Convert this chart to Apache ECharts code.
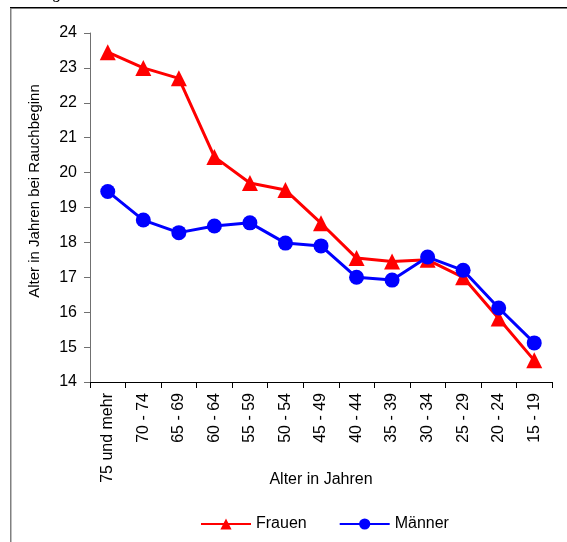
<!DOCTYPE html>
<html>
<head>
<meta charset="utf-8">
<script src="https://cdn.jsdelivr.net/npm/echarts@6/dist/echarts.min.js"></script>
<style>
  html, body { margin: 0; padding: 0; background: #fff; }
  #chart { width: 567px; height: 542px; }
</style>
</head>
<body>
<div id="chart"></div>
<script>
// Age groups (oldest first) and mean age at smoking onset
const ageGroups = ['75 und mehr', '70 - 74', '65 - 69', '60 - 64', '55 - 59', '50 - 54',
  '45 - 49', '40 - 44', '35 - 39', '30 - 34', '25 - 29', '20 - 24', '15 - 19'];
const frauen = [23.45, 23.0, 22.7, 20.45, 19.7, 19.5, 18.55, 17.55, 17.45, 17.5, 17.0, 15.82, 14.62];
const maenner = [19.46, 18.64, 18.28, 18.47, 18.56, 17.98, 17.9, 17.0, 16.92, 17.58, 17.2, 16.12, 15.12];
const yMin = 14, yMax = 24, yStep = 1;

const FONT = '"Liberation Sans", Arial, sans-serif';
const chart = echarts.init(document.getElementById('chart'), null, { renderer: 'canvas' });

chart.setOption({
  backgroundColor: '#fff',
  animation: false,
  textStyle: { fontFamily: FONT },
  graphic: [
    // outer frame (top and left edges)
    { type: 'rect', shape: { x: 10, y: 7, width: 600, height: 1.5 }, style: { fill: '#000' }, z: 0 },
    { type: 'rect', shape: { x: 10, y: 8, width: 1.5, height: 600 }, style: { fill: '#808080' }, z: 0 },
    // heading above the frame (mostly outside the page)
    { type: 'text', left: -4, top: -12,
      style: { text: 'Abbildung', font: 'bold 14px "Liberation Serif", "Times New Roman", serif', fill: '#000' } },
    // value axis title
    { type: 'text', x: 35, y: 191, rotation: Math.PI / 2,
      style: { text: 'Alter in Jahren bei Rauchbeginn', font: '15px ' + FONT, fill: '#000',
               align: 'center', verticalAlign: 'middle' } }
  ],
  grid: { left: 90, right: 15, top: 33, bottom: 160, containLabel: false },
  legend: {
    left: 195,
    top: 511,
    itemWidth: 50,
    itemHeight: 14,
    itemGap: 32,
    textStyle: { fontSize: 16, color: '#000', fontFamily: FONT },
    data: ['Frauen', 'Männer']
  },
  xAxis: {
    type: 'category',
    data: ageGroups,
    boundaryGap: true,
    name: 'Alter in Jahren',
    nameLocation: 'middle',
    nameGap: 90,
    nameMoveOverlap: false,
    nameTextStyle: { fontSize: 16, color: '#000', fontFamily: FONT },
    axisLine: { lineStyle: { color: '#000', width: 1 } },
    axisTick: { show: true, length: 6, lineStyle: { color: '#000' } },
    axisLabel: { interval: 0, rotate: 90, margin: 11, fontSize: 16, color: '#000', fontFamily: FONT },
    splitLine: { show: false }
  },
  yAxis: {
    type: 'value',
    min: yMin, max: yMax, interval: yStep,
    axisLine: { show: true, lineStyle: { color: '#707070', width: 1 } },
    axisTick: { show: true, length: 6, lineStyle: { color: '#707070' } },
    axisLabel: { margin: 13, fontSize: 16, color: '#000', fontFamily: FONT },
    splitLine: { show: false }
  },
  series: [
    {
      name: 'Frauen', type: 'line', data: frauen,
      symbol: 'triangle', symbolSize: 16,
      lineStyle: { color: '#ff0000', width: 3 },
      itemStyle: { color: '#ff0000' },
      z: 2
    },
    {
      name: 'Männer', type: 'line', data: maenner,
      symbol: 'circle', symbolSize: 15,
      lineStyle: { color: '#0000ff', width: 3 },
      itemStyle: { color: '#0000ff' },
      z: 3
    }
  ]
});
</script>
</body>
</html>
